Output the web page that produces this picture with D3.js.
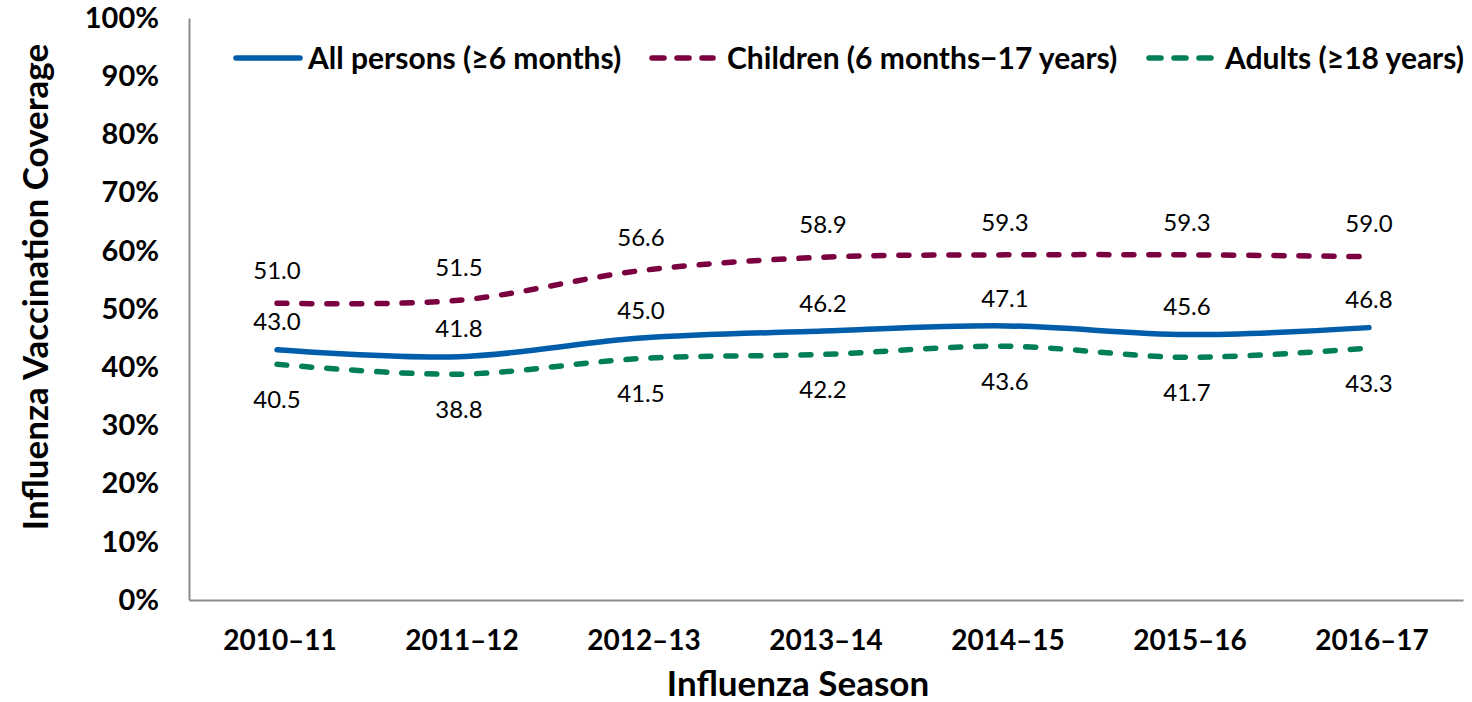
<!DOCTYPE html>
<html><head><meta charset="utf-8">
<script src="https://cdn.jsdelivr.net/npm/d3@7"></script>
<style>
html,body{margin:0;padding:0;background:#fff;}
svg{display:block;font-family:Lato, "Open Sans", sans-serif;}
</style></head>
<body><svg id="c" width="1472" height="702"></svg>
<script>
const seasons = ["2010–11","2011–12","2012–13","2013–14","2014–15","2015–16","2016–17"];
const allPersons = [43.0,41.8,45.0,46.2,47.1,45.6,46.8];
const children = [51.0,51.5,56.6,58.9,59.3,59.3,59.0];
const adults = [40.5,38.8,41.5,42.2,43.6,41.7,43.3];
const yTicks = [0,10,20,30,40,50,60,70,80,90,100];
const seriesNames = ["All persons (≥6 months)","Children (6 months−17 years)","Adults (≥18 years)"];

const series = [
  {name: seriesNames[0], values: allPersons, color: "#005DAA", dash: null, labelDy: -28},
  {name: seriesNames[1], values: children, color: "#7A0040", dash: "10,15", labelDy: -33},
  {name: seriesNames[2], values: adults, color: "#007E57", dash: "10,15", labelDy: 35}
];

const svg = d3.select("#c");
const mLeft = 189, mRight = 1463, mTop = 18, mBottom = 600;

const x = d3.scaleBand().domain(seasons).range([mLeft, mRight]).paddingInner(0).paddingOuter(0);
const y = d3.scaleLinear().domain([0, 100]).range([mBottom, mTop]);
const cx = d => x(d) + x.bandwidth()/2 - 3;

// axes
const yAxis = d3.axisLeft(y).tickValues(yTicks).tickFormat(d => d + "%").tickSize(0).tickPadding(30);
const gy = svg.append("g").attr("transform", `translate(${mLeft},0)`).call(yAxis);
gy.select(".domain").attr("stroke", "#8c8c8c").attr("stroke-width", 2);
gy.selectAll("text").attr("font-size", 29).attr("font-weight", "bold").attr("fill", "#000").attr("font-family","Lato");

const xAxis = d3.axisBottom(x).tickSize(0).tickPadding(30);
const gx = svg.append("g").attr("transform", `translate(0,${mBottom})`).call(xAxis);
gx.select(".domain").attr("stroke", "#8c8c8c").attr("stroke-width", 2);
gx.selectAll("text").attr("font-size", 28).attr("font-weight", "bold").attr("fill", "#000").attr("font-family","Lato").attr("dy","0.71em");

// titles
svg.append("text").attr("x", 798).attr("y", 696).attr("text-anchor", "middle")
  .attr("font-size", 35).attr("font-weight", "bold").text("Influenza Season");
svg.append("text").attr("transform", "translate(48,287) rotate(-90)").attr("text-anchor", "middle")
  .attr("font-size", 35).attr("font-weight", "bold").text("Influenza Vaccination Coverage");

// lines
const line = d3.line().x((d,i) => cx(seasons[i])).y(d => y(d)).curve(d3.curveCatmullRom);
series.forEach(s => {
  svg.append("path").datum(s.values).attr("d", line).attr("fill", "none")
    .attr("stroke", s.color).attr("stroke-width", 5.5).attr("stroke-linecap", "round")
    .attr("stroke-dasharray", s.dash);
});
// labels
series.forEach(s => {
  svg.append("g").selectAll("text").data(s.values).join("text")
    .attr("x", (d,i) => cx(seasons[i])).attr("y", d => y(d) + s.labelDy)
    .attr("dy", "0.36em").attr("text-anchor", "middle").attr("font-size", 24).attr("fill", "#000")
    .text(d => d.toFixed(1));
});

// legend
const legendPos = [{x1:236, x2:300, tx:308},{x1:652, x2:713, tx:727},{x1:1149, x2:1211, tx:1225}];
series.forEach((s, i) => {
  const p = legendPos[i];
  svg.append("line").attr("x1", p.x1).attr("x2", p.x2).attr("y1", 58).attr("y2", 58)
    .attr("stroke", s.color).attr("stroke-width", 5.5).attr("stroke-linecap", "round")
    .attr("stroke-dasharray", s.dash ? "12,13" : null);
  svg.append("text").attr("x", p.tx).attr("y", 58).attr("dy", "0.36em")
    .attr("font-size", 30).attr("font-weight", "bold").text(s.name);
});
</script></body></html>
